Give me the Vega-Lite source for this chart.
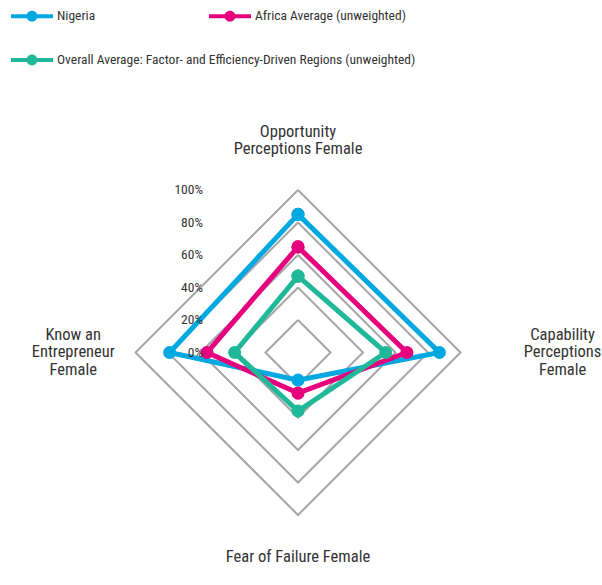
{
  "$schema": "https://vega.github.io/schema/vega-lite/v6.json",
  "autosize": {"type": "none"},
  "width": 325,
  "height": 325,
  "padding": {"left": 135.5, "top": 190, "right": 141.5, "bottom": 70},
  "background": "white",
  "config": {
    "view": {"stroke": null},
    "font": "Roboto Condensed, Liberation Sans Narrow, DejaVu Sans Condensed, Roboto, sans-serif"
  },
  "datasets": {
    "grid": [
      {"level": 20, "o": 1, "x": 0, "y": 20}, {"level": 20, "o": 2, "x": 20, "y": 0}, {"level": 20, "o": 3, "x": 0, "y": -20}, {"level": 20, "o": 4, "x": -20, "y": 0}, {"level": 20, "o": 5, "x": 0, "y": 20},
      {"level": 40, "o": 1, "x": 0, "y": 40}, {"level": 40, "o": 2, "x": 40, "y": 0}, {"level": 40, "o": 3, "x": 0, "y": -40}, {"level": 40, "o": 4, "x": -40, "y": 0}, {"level": 40, "o": 5, "x": 0, "y": 40},
      {"level": 60, "o": 1, "x": 0, "y": 60}, {"level": 60, "o": 2, "x": 60, "y": 0}, {"level": 60, "o": 3, "x": 0, "y": -60}, {"level": 60, "o": 4, "x": -60, "y": 0}, {"level": 60, "o": 5, "x": 0, "y": 60},
      {"level": 80, "o": 1, "x": 0, "y": 80}, {"level": 80, "o": 2, "x": 80, "y": 0}, {"level": 80, "o": 3, "x": 0, "y": -80}, {"level": 80, "o": 4, "x": -80, "y": 0}, {"level": 80, "o": 5, "x": 0, "y": 80},
      {"level": 100, "o": 1, "x": 0, "y": 100}, {"level": 100, "o": 2, "x": 100, "y": 0}, {"level": 100, "o": 3, "x": 0, "y": -100}, {"level": 100, "o": 4, "x": -100, "y": 0}, {"level": 100, "o": 5, "x": 0, "y": 100}
    ],
    "series": [
      {"series": "Nigeria", "dimension": "Opportunity Perceptions Female", "o": 1, "x": 0, "y": 85},
      {"series": "Nigeria", "dimension": "Capability Perceptions Female", "o": 2, "x": 87, "y": 0},
      {"series": "Nigeria", "dimension": "Fear of Failure Female", "o": 3, "x": 0, "y": -17},
      {"series": "Nigeria", "dimension": "Know an Entrepreneur Female", "o": 4, "x": -79, "y": 0},
      {"series": "Nigeria", "dimension": "Opportunity Perceptions Female", "o": 5, "x": 0, "y": 85},
      {"series": "Africa Average (unweighted)", "dimension": "Opportunity Perceptions Female", "o": 1, "x": 0, "y": 65},
      {"series": "Africa Average (unweighted)", "dimension": "Capability Perceptions Female", "o": 2, "x": 67, "y": 0},
      {"series": "Africa Average (unweighted)", "dimension": "Fear of Failure Female", "o": 3, "x": 0, "y": -25},
      {"series": "Africa Average (unweighted)", "dimension": "Know an Entrepreneur Female", "o": 4, "x": -56, "y": 0},
      {"series": "Africa Average (unweighted)", "dimension": "Opportunity Perceptions Female", "o": 5, "x": 0, "y": 65},
      {"series": "Overall Average: Factor- and Efficiency-Driven Regions (unweighted)", "dimension": "Opportunity Perceptions Female", "o": 1, "x": 0, "y": 47},
      {"series": "Overall Average: Factor- and Efficiency-Driven Regions (unweighted)", "dimension": "Capability Perceptions Female", "o": 2, "x": 54, "y": 0},
      {"series": "Overall Average: Factor- and Efficiency-Driven Regions (unweighted)", "dimension": "Fear of Failure Female", "o": 3, "x": 0, "y": -36},
      {"series": "Overall Average: Factor- and Efficiency-Driven Regions (unweighted)", "dimension": "Know an Entrepreneur Female", "o": 4, "x": -39, "y": 0},
      {"series": "Overall Average: Factor- and Efficiency-Driven Regions (unweighted)", "dimension": "Opportunity Perceptions Female", "o": 5, "x": 0, "y": 47}
    ],
    "ticks": [
      {"t": "0%", "v": 0}, {"t": "20%", "v": 20}, {"t": "40%", "v": 40}, {"t": "60%", "v": 60}, {"t": "80%", "v": 80}, {"t": "100%", "v": 100}
    ],
    "dims": [
      {"label": ["Opportunity", "Perceptions Female"], "x": 0, "y": 135.7},
      {"label": ["Capability", "Perceptions", "Female"], "x": 162.8, "y": 10.8},
      {"label": ["Fear of Failure Female"], "x": 0, "y": -126},
      {"label": ["Know an", "Entrepreneur", "Female"], "x": -138.3, "y": 10.8}
    ]
  },
  "layer": [
    {
      "data": {"name": "grid"},
      "mark": {"type": "line", "color": "#A6A6A6", "strokeWidth": 2},
      "encoding": {
        "x": {"field": "x", "type": "quantitative", "scale": {"domain": [-100, 100], "nice": false, "zero": false}, "axis": null},
        "y": {"field": "y", "type": "quantitative", "scale": {"domain": [-100, 100], "nice": false, "zero": false}, "axis": null},
        "detail": {"field": "level", "type": "nominal"},
        "order": {"field": "o", "type": "quantitative"}
      }
    },
    {
      "data": {"name": "series"},
      "transform": [{"filter": "datum.series != 'Overall Average: Factor- and Efficiency-Driven Regions (unweighted)'"}],
      "mark": {"type": "line", "strokeWidth": 5},
      "encoding": {
        "x": {"field": "x", "type": "quantitative"},
        "y": {"field": "y", "type": "quantitative"},
        "order": {"field": "o", "type": "quantitative"},
        "color": {
          "field": "series", "type": "nominal",
          "scale": {"domain": ["Nigeria", "Africa Average (unweighted)"], "range": ["#00A8E1", "#E6007E"]},
          "legend": {
            "title": null,
            "orient": "none",
            "direction": "horizontal",
            "legendX": -124.5,
            "legendY": -195,
            "columnPadding": 113,
            "padding": 0,
            "symbolSize": 1764,
            "symbolType": "M-1,-0.1L1,-0.1L1,0.1L-1,0.1Z M-0.26,0A0.26,0.26,0,1,1,0.26,0A0.26,0.26,0,1,1,-0.26,0Z",
            "symbolStrokeWidth": 0,
            "labelFontSize": 13.5,
            "labelColor": "#333333",
            "labelOffset": 4,
            "labelLimit": 600,
            "encode": {"symbols": {"update": {"fill": {"scale": "color", "field": "value"}, "strokeWidth": {"value": 0}, "opacity": {"value": 1}}}}
          }
        }
      }
    },
    {
      "data": {"name": "series"},
      "transform": [{"filter": "datum.series == 'Overall Average: Factor- and Efficiency-Driven Regions (unweighted)'"}],
      "mark": {"type": "line", "strokeWidth": 5},
      "encoding": {
        "x": {"field": "x", "type": "quantitative"},
        "y": {"field": "y", "type": "quantitative"},
        "order": {"field": "o", "type": "quantitative"},
        "stroke": {
          "field": "series", "type": "nominal",
          "scale": {"domain": ["Overall Average: Factor- and Efficiency-Driven Regions (unweighted)"], "range": ["#1FB99A"]},
          "legend": {
            "title": null,
            "orient": "none",
            "legendX": -124.5,
            "legendY": -151,
            "padding": 0,
            "symbolSize": 1764,
            "symbolType": "M-1,-0.1L1,-0.1L1,0.1L-1,0.1Z M-0.26,0A0.26,0.26,0,1,1,0.26,0A0.26,0.26,0,1,1,-0.26,0Z",
            "symbolStrokeWidth": 0,
            "labelFontSize": 13.5,
            "labelColor": "#333333",
            "labelOffset": 4,
            "labelLimit": 600,
            "encode": {"symbols": {"update": {"fill": {"scale": "stroke", "field": "value"}, "strokeWidth": {"value": 0}, "opacity": {"value": 1}}}}
          }
        }
      }
    },
    {
      "data": {"name": "series"},
      "transform": [{"filter": "datum.series != 'Overall Average: Factor- and Efficiency-Driven Regions (unweighted)'"}],
      "mark": {"type": "point", "filled": true, "size": 170, "opacity": 1},
      "encoding": {
        "x": {"field": "x", "type": "quantitative"},
        "y": {"field": "y", "type": "quantitative"},
        "color": {"field": "series", "type": "nominal", "legend": null}
      }
    },
    {
      "data": {"name": "series"},
      "transform": [{"filter": "datum.series == 'Overall Average: Factor- and Efficiency-Driven Regions (unweighted)'"}],
      "mark": {"type": "point", "filled": true, "size": 170, "opacity": 1},
      "encoding": {
        "x": {"field": "x", "type": "quantitative"},
        "y": {"field": "y", "type": "quantitative"},
        "fill": {"field": "series", "type": "nominal", "scale": {"domain": ["Overall Average: Factor- and Efficiency-Driven Regions (unweighted)"], "range": ["#1FB99A"]}, "legend": null}
      }
    },
    {
      "data": {"name": "ticks"},
      "mark": {"type": "text", "align": "right", "baseline": "middle", "fontSize": 13.5, "color": "#333333"},
      "encoding": {
        "x": {"datum": -58.5},
        "y": {"field": "v", "type": "quantitative"},
        "text": {"field": "t"}
      }
    },
    {
      "data": {"name": "dims"},
      "mark": {"type": "text", "align": "center", "baseline": "middle", "fontSize": 16.5, "lineHeight": 17.5, "color": "#333333"},
      "encoding": {
        "x": {"field": "x", "type": "quantitative"},
        "y": {"field": "y", "type": "quantitative"},
        "text": {"field": "label"}
      }
    }
  ]
}
